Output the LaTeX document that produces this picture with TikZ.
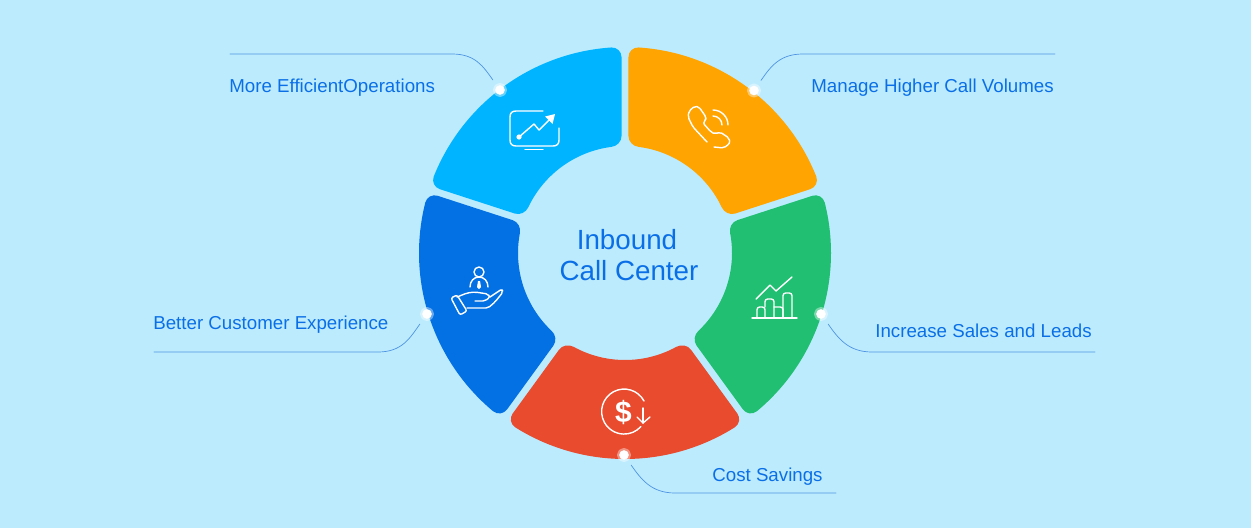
\documentclass[tikz,border=0pt]{standalone}
\usepackage{fontspec}
\setmainfont{Liberation Sans}
\usetikzlibrary{arrows.meta}
\usetikzlibrary{positioning}
\definecolor{skybg}{HTML}{BDEBFE}
\definecolor{textblue}{HTML}{0A6FE6}
\definecolor{leaderblue}{HTML}{4E94E2}
\definecolor{segcyan}{HTML}{00B4FF}
\definecolor{segorange}{HTML}{FFA400}
\definecolor{seggreen}{HTML}{20BF72}
\definecolor{segred}{HTML}{E84B2E}
\definecolor{segblue}{HTML}{0370E4}
\tikzset{
  leader/.style={draw=leaderblue,line width=0.4pt,shorten <=7pt},
  dotnode/.style={circle,fill=white,draw=white,draw opacity=.4,line width=2.5pt,inner sep=0pt,minimum size=5.5pt},
  label/.style={text=textblue,font=\fontsize{10.65}{12}\selectfont,anchor=base west,inner sep=0pt},
  title/.style={text=textblue,font=\fontsize{15.8}{18}\selectfont,anchor=base,inner sep=0pt},
  icon/.style={draw=white,line width=0.8pt,line cap=round,line join=round}
}
% one piece of the ring, angles run clockwise because of yscale=-1
\newcommand{\ringseg}[3]{%
\fill[#3,shift={(625,253)}] (#1+3.8:206)
  arc[start angle=#1+3.8,end angle=#2-3.8,radius=206]
  .. controls (#2-2.25:206) and (#2-1:201.5) .. (#2-1.02:196) -- (#2-1.71:117)
  .. controls (#2-1.8:111.5) and (#2-4.3:107) .. (#2-7.35:107)
  arc[start angle=#2-7.35,end angle=#1+7.35,radius=107]
  .. controls (#1+4.3:107) and (#1+1.8:111.5) .. (#1+1.71:117) -- (#1+1.02:196)
  .. controls (#1+1:201.5) and (#1+2.25:206) .. cycle;}
\begin{document}
\begin{tikzpicture}[line cap=round,line join=round,x=0.02cm,y=0.02cm,yscale=-1]
\useasboundingbox (0,0) rectangle (1251,528);
\fill[skybg] (0,0) rectangle (1251,528);
\ringseg{-90}{-18}{segorange}
\ringseg{-18}{54}{seggreen}
\ringseg{54}{126}{segred}
\ringseg{126}{198}{segblue}
\ringseg{198}{270}{segcyan}
% dots on the rim
\coordinate (dotEffPos) at (500,90);
\coordinate (dotCallPos) at (754,90.5);
\coordinate (dotSalesPos) at (821,314);
\coordinate (dotCostPos) at (624,455);
\coordinate (dotCustPos) at (427,314);
% ends of the rules
\coordinate (ruleEff) at (230,54);
\coordinate (ruleCall) at (1055,54);
\coordinate (ruleSales) at (1095,352);
\coordinate (ruleCost) at (836,493);
\coordinate (ruleCust) at (154,352);
\draw[leader] (dotEffPos) .. controls (483,66) and (475,54) .. (452,54) -- (ruleEff);
\draw[leader] (dotCallPos) .. controls (771,66) and (780,54) .. (803,54) -- (ruleCall);
\draw[leader] (dotSalesPos) .. controls (838,338) and (848,352) .. (872,352) -- (ruleSales);
\draw[leader] (dotCostPos) .. controls (641,479) and (651,493) .. (675,493) -- (ruleCost);
\draw[leader] (dotCustPos) .. controls (410,338) and (402,352) .. (378,352) -- (ruleCust);
\node[dotnode] (dotEff) at (dotEffPos) {};
\node[dotnode] (dotCall) at (dotCallPos) {};
\node[dotnode] (dotSales) at (dotSalesPos) {};
\node[dotnode] (dotCost) at (dotCostPos) {};
\node[dotnode] (dotCust) at (dotCustPos) {};
% labels
\node[label] (lblEff) at (229,92) {More EfficientOperations};
\node[label] (lblCall) at (811,92) {Manage Higher Call Volumes};
\node[label] (lblSales) at (875,337) {Increase Sales and Leads};
\node[label] (lblCost) at (712,481) {Cost Savings};
\node[label] (lblCust) at (153,329) {Better Customer Experience};
\node[title] (lblInbound) at (627,249) {Inbound};
\node[title] (lblCenter) at (629,280) {Call Center};
% monitor
\draw[icon] (543,111) -- (516,111) .. controls (512,111) and (510,113) .. (510,117) -- (510,140)
  .. controls (510,144) and (512,146) .. (516,146) -- (553,146) .. controls (557,146) and (559,144) .. (559,140) -- (559,128);
\draw[icon] (525,149.5) -- (543,149.5);
\draw[icon] (519,137) -- (534,124) -- (539,130) -- (551,118);
\fill[white] (519,137) circle (2.6);
\fill[white] (555,114) -- (545,116.5) -- (552.5,124) -- cycle;
% phone
\draw[icon,rounded corners=1.2pt] (707,142) -- (693,127) -- (688,117) -- (689,111) -- (695,106) -- (699,107)
  -- (706,117) -- (706,120) -- (703,123) -- (711,132) -- (715,134) -- (720,132) -- (729,138) -- (730,143) -- (724,148) -- (714,147);
\draw[icon] (713,110) arc[start angle=-90,end angle=0,radius=15];
\draw[icon] (713,116) arc[start angle=-90,end angle=0,radius=9];
% bar chart
\draw[icon] (752,318) -- (797,318);
\draw[icon,rounded corners=1.5pt] (757,318) -- (757,307) -- (765,307) -- (765,318);
\draw[icon,rounded corners=1.5pt] (765,307) -- (765,299) -- (774,299) -- (774,318);
\draw[icon,rounded corners=1.5pt] (774,307) -- (783,307) -- (783,318);
\draw[icon,rounded corners=1.5pt] (783,318) -- (783,293) -- (792,293) -- (792,318);
\draw[icon] (756,299) -- (770,285) -- (776,291) -- (792,277);
% dollar
\draw[icon] (644,401) arc[start angle=-28,end angle=-318,radius=22.5];
\node[text=white,font=\bfseries\fontsize{17}{18}\selectfont,inner sep=0pt] (dollarSign) at (623.5,413) {\$};
\draw[icon] (643,408) -- (643,423);
\draw[icon] (637,417) -- (643,423) -- (650,417);
% hand
\draw[icon] (479,272) circle (5);
\draw[icon] (470,287) .. controls (470,281) and (474,277) .. (479,277) .. controls (484,277) and (488,281) .. (488,287);
\fill[white] (478,281) -- (480,281) -- (481,287) -- (479,289) -- (477,287) -- cycle;
\draw[icon,rounded corners=1.2pt] (451,298) -- (457,295) -- (467,311) -- (460,315) -- cycle;
\draw[icon,rounded corners=1.2pt] (457,297) -- (467,293) -- (475,292) -- (488,294) -- (490,297) -- (485,301) -- (475,301);
\draw[icon,rounded corners=1.2pt] (490,297) -- (502,289) -- (503,292) -- (495,302) -- (488,308) -- (467,308);
\end{tikzpicture}
\end{document}
